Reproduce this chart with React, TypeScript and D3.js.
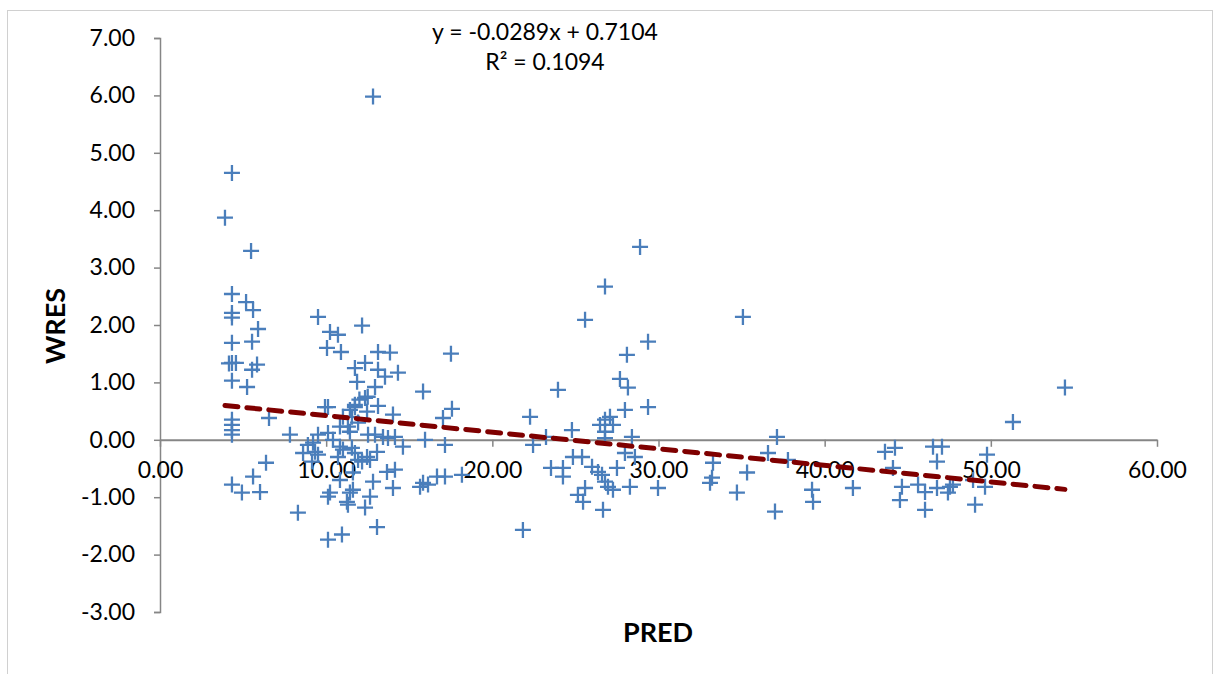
import React, { useEffect, useRef } from "react";
import * as d3 from "d3";

// PRED (x) and WRES (y)
const predValues = [
  3.91, 4.33, 5.48, 4.33, 5.18, 5.6, 4.33, 4.33, 5.9, 4.33, 5.54, 4.33, 4.57, 4.15, 5.84, 5.54, 4.33, 5.24, 6.56, 4.33,
  4.33, 4.33, 4.33, 7.82, 6.38, 5.6, 4.33, 4.93, 6.02, 8.3,
  9.51, 12.16, 10.23, 10.71, 10.05, 10.89, 13.12, 13.84, 12.34, 11.73, 13.12, 14.32, 13.54, 11.86, 12.94, 15.83, 12.34, 11.73, 10.11, 13.12,
  11.43, 12.46, 14.02, 11.01, 11.92, 10.83, 10.11, 12.52, 11.43, 13.42, 14.14, 15.95, 9.21, 14.62, 10.83, 8.61, 9.51, 11.73, 13.06, 11.92,
  12.64, 13.66, 14.14, 11.61, 10.83, 12.82, 14.02, 15.83, 10.23, 11.43, 12.64, 11.31, 12.34, 13.06, 10.95, 10.11, 9.51, 10.41, 9.33, 9.15,
  11.01, 10.71, 11.55, 11.31, 11.55, 9.93, 11.73, 12.94, 13.72, 12.46, 12.16, 10.11, 11.25, 11.61, 16.13, 8.9, 12.0, 12.5, 12.82,
  17.51, 17.57, 17.03, 17.15, 16.67, 17.15, 18.17, 15.65,
  23.95, 22.27, 22.45, 23.23, 24.79, 24.85, 25.4, 23.53, 24.25, 24.25, 25.15, 25.46, 26.66, 21.84, 26.78, 27.08, 27.68, 28.89, 26.78, 25.58,
  29.37, 28.1, 28.16, 29.37, 27.98, 26.48, 27.26, 26.78, 28.4, 26.78, 27.98, 28.58, 26.0, 26.36, 27.5, 26.78, 28.28, 29.97, 26.96, 27.26,
  25.58, 26.6,
  33.28, 33.22, 33.1, 35.08, 37.13, 36.59, 37.79, 35.33, 34.72, 37.01, 39.24, 39.3, 41.7, 43.63, 44.23, 44.11, 44.65, 44.53, 45.62, 46.04,
  46.04, 46.52, 47.06, 46.76, 46.76, 47.42, 47.72, 48.93, 49.05, 49.65, 49.77, 54.46, 51.33, 47.54,
];
const wresValues = [
  3.87, 4.65, 3.29, 2.54, 2.4, 2.26, 2.21, 2.13, 1.93, 1.69, 1.71, 1.34, 1.34, 1.33, 1.31, 1.22, 1.03, 0.92, 0.38, 0.35,
  0.26, 0.17, 0.09, 0.09, -0.4, -0.64, -0.78, -0.92, -0.91, -1.27,
  2.14, 1.99, 1.88, 1.83, 1.6, 1.53, 1.53, 1.52, 1.34, 1.25, 1.22, 1.17, 1.1, 1.01, 0.92, 0.84, 0.73, 0.61, 0.57, 0.59,
  0.52, 0.49, 0.44, 0.4, 0.3, 0.23, 0.12, 0.09, 0.14, 0.05, 0.05, 0.0, -0.05, -0.12, -0.12, -0.23, -0.26, -0.23, -0.21, -0.35,
  -0.35, -0.56, -0.52, -0.57, -0.7, -0.73, -0.84, -0.75, -0.92, -0.92, -0.99, -1.13, -1.18, -1.52, -1.65, -1.74, 0.09, 0.0, -0.21, -0.38,
  -0.17, -0.3, -0.14, 0.23, 0.4, 0.57, 0.57, 0.09, 0.03, -0.3, -0.38, -0.99, -1.08, -0.87, -0.78, -0.09, 0.7, 0.75, 5.98,
  1.5, 0.54, 0.38, -0.09, -0.64, -0.64, -0.61, -0.82,
  0.87, 0.4, -0.09, 0.05, 0.17, -0.3, -0.3, -0.49, -0.49, -0.64, -0.96, -1.08, -1.22, -1.57, 0.35, 0.4, 1.06, 3.36, 2.67, 2.09,
  1.71, 1.48, 0.91, 0.57, 0.52, 0.26, 0.26, 0.14, 0.05, 0.03, -0.23, -0.3, -0.47, -0.56, -0.49, -0.73, -0.82, -0.84, -0.82, -0.87,
  -0.84, -0.61,
  -0.4, -0.66, -0.75, 2.14, 0.05, -0.23, -0.35, -0.57, -0.92, -1.25, -0.87, -1.08, -0.84, -0.21, -0.14, -0.49, -0.82, -1.05, -0.78, -0.91,
  -1.22, -0.12, -0.12, -0.38, -0.84, -0.92, -0.78, -0.7, -1.13, -0.82, -0.26, 0.91, 0.31, -0.82,
];

const xTicks = [0, 10, 20, 30, 40, 50, 60];
const yTicks = [-3, -2, -1, 0, 1, 2, 3, 4, 5, 6, 7];
const slope = -0.0289;
const intercept = 0.7104;
const equationLabel = "y = -0.0289x + 0.7104";
const r2Label = "R² = 0.1094";

// excel style "0.00" with a plain hyphen
const fmt = (d) => d3.format(".2f")(d).replace("−", "-");

function App() {
  const svgRef = useRef(null);

  useEffect(() => {
    document.body.style.margin = "0";
    const svg = d3.select(svgRef.current);
    svg.selectAll("*").remove();

    const font = "Lato, 'Open Sans', sans-serif";
    const x = d3.scaleLinear().domain([0, 60]).range([160, 1157]);
    const y = d3.scaleLinear().domain([-3, 7]).range([612, 38]);

    // outer frame
    svg.append("rect")
      .attr("x", 7.5).attr("y", 10.5)
      .attr("width", 1205).attr("height", 700)
      .attr("fill", "white").attr("stroke", "#d0d0d0").attr("stroke-width", 1);

    const axisColor = "#868686";

    // y axis
    const yAxis = svg.append("g")
      .attr("transform", `translate(${x(0)},0)`)
      .call(d3.axisLeft(y).tickValues(yTicks).tickSize(6).tickPadding(19).tickFormat(fmt));
    yAxis.select(".domain").attr("stroke", axisColor).attr("stroke-width", 1.5);
    yAxis.selectAll(".tick line").attr("stroke", axisColor).attr("stroke-width", 1.5);
    yAxis.selectAll("text").attr("font-family", font).attr("font-size", 23).attr("fill", "#000");

    // x axis sits on y = 0
    const xAxis = svg.append("g")
      .attr("transform", `translate(0,${y(0)})`)
      .call(d3.axisBottom(x).tickValues(xTicks).tickSize(7).tickSizeOuter(0).tickPadding(15).tickFormat(fmt));
    xAxis.select(".domain").attr("stroke", axisColor).attr("stroke-width", 2);
    xAxis.selectAll(".tick line").attr("stroke", axisColor).attr("stroke-width", 1.5);
    xAxis.selectAll("text").attr("font-family", font).attr("font-size", 23).attr("fill", "#000");

    // points (plus markers)
    const pts = predValues.map((p, i) => [p, wresValues[i]]);
    const r = 8;
    const g = svg.append("g").attr("stroke", "#4a7ebb").attr("stroke-width", 2.3);
    g.selectAll("path")
      .data(pts)
      .join("path")
      .attr("d", (d) => {
        const cx = x(d[0]), cy = y(d[1]);
        return `M${cx - r},${cy}H${cx + r}M${cx},${cy - r}V${cy + r}`;
      });

    // linear trendline
    const [xmin, xmax] = d3.extent(predValues);
    const line = d3.line().x((d) => x(d)).y((d) => y(slope * d + intercept));
    svg.append("path")
      .attr("d", line([xmin, xmax]))
      .attr("fill", "none")
      .attr("stroke", "#7f0000")
      .attr("stroke-width", 5)
      .attr("stroke-dasharray", "13,9")
      .attr("stroke-linecap", "round");

    // equation labels
    svg.append("text").attr("x", 545).attr("y", 40).attr("text-anchor", "middle")
      .attr("font-family", font).attr("font-size", 23).text(equationLabel);
    svg.append("text").attr("x", 545).attr("y", 70).attr("text-anchor", "middle")
      .attr("font-family", font).attr("font-size", 23).text(r2Label);

    // axis titles
    svg.append("text").attr("x", 658).attr("y", 642).attr("text-anchor", "middle")
      .attr("font-family", font).attr("font-weight", "bold").attr("font-size", 27).text("PRED");
    svg.append("text")
      .attr("transform", "translate(65,326) rotate(-90)")
      .attr("text-anchor", "middle")
      .attr("font-family", font).attr("font-weight", "bold").attr("font-size", 27).text("WRES");
  }, []);

  return <svg ref={svgRef} width={1219} height={674} style={{ display: "block" }} />;
}

export default App;
